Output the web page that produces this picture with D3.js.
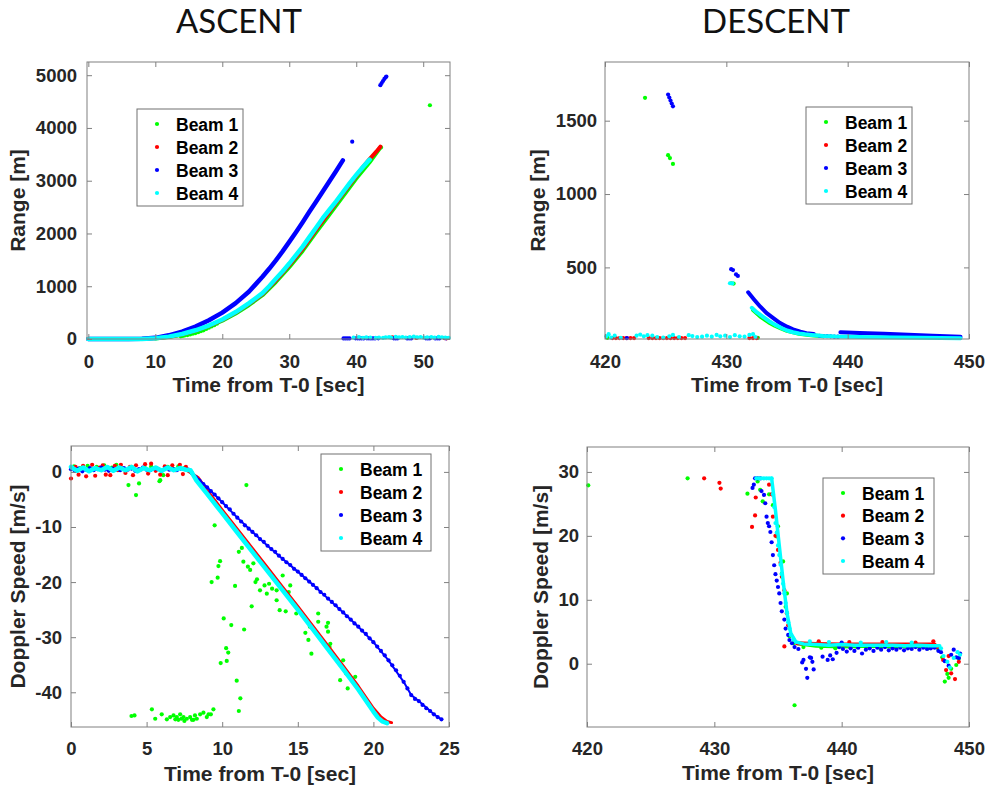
<!DOCTYPE html>
<html>
<head>
<meta charset="utf-8">
<script src="https://cdn.jsdelivr.net/npm/d3@7"></script>
<style>
  body { margin: 0; background: #fff; }
  svg { display: block; }
</style>
</head>
<body>
<svg id="chart" width="990" height="791"></svg>
<script>
// ---- shared ----
const beamNames = ["Beam 1", "Beam 2", "Beam 3", "Beam 4"];
const beamColors = ["#00ff00", "#ff0000", "#0000ff", "#00ffff"];

// ---- ASCENT : range ----
const ascRangeXTicks = [0, 10, 20, 30, 40, 50];
const ascRangeYTicks = [0, 1000, 2000, 3000, 4000, 5000];
const ascRangeTrackB1 = [[10,10],[12,38],[14,82],[16,150],[18,238],[20,348],[22,482],[24,645],[26,830],[28,1080],[30,1360],[32,1670],[34,2020],[36,2360],[38,2700],[40,3040],[42,3350],[43.6,3630]];
const ascRangeDotsB1 = [[13.8,50],[14.1,58],[14.4,66],[14.8,75],[15.2,85],[15.6,100],[16.0,112],[16.4,128],[16.8,148],[17.2,165],[17.6,190],[18.0,215],[18.4,238],[18.8,262],[19.2,290],[43.7,3630],[51.0,4430]];
const ascRangeTrackB2 = [[0,0],[6,0],[8,2],[10,12],[12,42],[14,90],[16,160],[18,250],[20,360],[22,500],[24,665],[26,850],[28,1110],[30,1400],[32,1710],[34,2070],[36,2410],[38,2750],[40,3090],[41,3260],[42,3410],[43,3550],[43.6,3645]];
const ascRangeDotsB2 = [[45.4,30],[49.0,20],[53.2,15],[53.5,12]];
const ascRangeTrackB3 = [[0,0],[6,0],[8,3],[10,22],[12,70],[14,140],[16,235],[18,355],[20,500],[22,680],[24,900],[25,1040],[26,1180],[27,1330],[28,1490],[29,1660],[30,1840],[31,2025],[32,2215],[33,2410],[34,2600],[35,2795],[36,2990],[37,3185],[38,3385]];
const ascRangeDotsB3 = [[39.4,3740],[43.6,4810],[43.8,4850],[44.0,4890],[44.2,4930],[44.4,4960],[44.5,4975],
  [38.1,10],[38.4,10],[38.7,10],[39.0,10],[39.9,12],[40.2,12],[40.5,10],[40.8,12],[41.1,10],[41.6,12],[41.9,12],[42.2,10],[42.5,12],[42.8,10],[43.3,12],
  [45.6,12],[45.9,10],[46.2,12],[47.6,10],[47.9,12],[48.2,10],[50.4,12],[50.7,10],[51.0,12],[51.8,10],[52.1,12],[52.4,10],[53.4,12]];
const ascRangeTrackB4 = [[0,0],[6,0],[8,2],[10,14],[12,45],[14,95],[16,165],[18,255],[20,370],[22,510],[24,680],[26,870],[27,1000],[28,1140],[29,1280],[30,1430],[31,1590],[32,1750],[33,1930],[34,2110],[35,2290],[36,2450],[37,2610],[38,2780],[39,2950],[40,3110],[41,3260],[42,3400]];
const ascRangeDotsB4 = [[39.6,25],[40.4,35],[41.0,22],[41.5,30],[42.1,28],[42.9,20],[43.4,25],[44.0,20],[44.4,30],[44.9,35],[45.2,25],[45.9,40],[46.4,30],[46.9,38],[47.4,28],[48.0,35],[48.6,45],[49.1,30],[49.6,38],[50.1,25],[50.6,30],[51.2,35],[51.7,25],[52.3,40],[52.8,30],[53.3,25],[53.8,20]];

// ---- DESCENT : range ----
const desRangeXTicks = [420, 430, 440, 450];
const desRangeYTicks = [500, 1000, 1500];
const desRangeTrackB1 = [[432.2,210],[432.8,165],[433.5,125],[434,103],[434.5,84],[435,68],[436,48],[437,37],[438,30]];
const desRangeDotsB1 = [[420.2,20],[423.3,1656],[425.2,1265],[425.35,1245],[425.6,1205],[430.4,392],[430.6,390],[432.6,20]];
const desRangeDotsB2 = [[420.6,18],[420.9,18],[421.2,18],[421.5,18],[421.8,18],[422.1,18],[422.4,18],[423.6,18],[423.9,18],[424.2,18],[424.5,18],[424.8,18],[425.1,18],[425.4,18],[425.7,18],[426.0,18],[426.3,18],[426.6,18],[431.9,18],[432.2,18],[432.5,18]];
const desRangeTrackB3a = [[431.8,330],[432.3,280],[432.8,232],[433.3,190],[433.9,153],[434.4,122],[435.0,96],[435.5,78],[436.1,62],[436.6,52],[437.2,46]];
const desRangeTrackB3b = [[439.4,58],[441,53],[443,47],[445,41],[447,35],[449.3,27]];
const desRangeDotsB3 = [[421.8,18],[425.2,1678],[425.3,1658],[425.4,1637],[425.5,1617],[425.6,1598],[430.4,488],[430.55,482],[430.8,452],[430.95,442],[437.7,33],[438.0,32],[438.3,31],[438.6,30],[438.9,28],[439.2,28]];
const desRangeTrackB4 = [[432.1,225],[432.5,195],[433,165],[433.5,135],[434,110],[434.5,88],[435,70],[435.5,58],[436,50],[436.5,44],[437,40],[438,33],[439,29],[440,27],[442,24],[444,22],[446,20],[449.3,17]];
const desRangeDotsB4 = [[430.3,392],[430.5,391],[420.1,30],[420.3,45],[420.5,22],[420.8,35],[421.3,20],[422.6,35],[422.9,42],[423.2,30],[423.5,38],[423.9,35],[424.3,25],[424.8,22],[425.3,30],[425.6,40],[426.1,25],[426.9,38],[427.2,32],[427.6,25],[428.0,28],[428.4,35],[428.8,28],[429.2,40],[429.5,30],[429.9,35],[430.3,25],[430.7,38],[431.1,30],[431.5,28],[431.9,40],[432.2,45],[432.4,25]];

// ---- ASCENT : doppler ----
const ascDopXTicks = [0, 5, 10, 15, 20, 25];
const ascDopYTicks = [0, -10, -20, -30, -40];
const ascDopDotsB1 = [[0.2,1.0],[0.6,0.7],[1.1,1.1],[1.7,0.9],[2.2,1.2],[2.7,0.8],[3.0,1.3],[3.4,0.6],[3.8,-2.4],[4.0,0.9],[4.3,-4.2],[4.5,-2.1],[4.9,0.7],[5.3,1.0],[5.85,-1.7],[5.9,-1.5],[6.1,-0.6],[6.4,0.9],[6.8,0.5],[7.1,1.0],[7.5,0.7],
  [11.6,-2.4],[9.5,-9.7],[9.75,-17.1],[9.86,-16.2],[9.3,-20],[9.7,-19.2],[10.85,-20.7],[10.1,-26.6],[10.6,-27.8],[11.45,-28.6],[10.26,-32],[10.4,-32.8],[9.9,-34.7],[10.3,-34.3],[10.96,-37.9],[11.2,-41.1],[11.1,-43.4],
  [11.95,-24.4],[12.2,-20],[12.5,-21.5],[12.8,-20.6],[12.95,-22.1],[13.3,-21.2],[13.6,-23.3],[13.8,-25.1],[14.4,-21.8],[14.5,-20.6],[14.0,-18.8],[12.06,-16.6],[11.85,-17.8],[11.4,-16.3],[11.1,-14.5],[11.3,-13.8],[11.7,-17.2],
  [13.6,-21.5],[14.3,-22.4],[14.7,-23.9],[14.9,-25.7],[15.5,-29.2],[15.8,-28.1],[15.7,-30.5],[15.9,-33],[16.35,-27.2],[16.35,-25.7],[16.9,-28.1],[17.0,-29],[17.0,-27.4],[17.1,-31.8],[17.15,-31.2],[18.0,-34.2],[18.2,-36.6],[17.8,-37.8],[18.8,-37.2],[18.3,-39.3],[14.2,-25.3],[13.1,-20.3],[12.3,-19.5],
  [4.0,-44.3],[4.2,-44.2],[5.35,-43.1],[5.57,-44.8],[6.0,-44],[6.34,-44.9],[6.56,-44.5],[6.78,-44.2],[6.9,-44.9],[7.0,-44.5],[7.1,-45],[7.22,-44],[7.3,-44.8],[7.44,-44.5],[7.5,-45.2],[7.66,-44.8],[7.88,-44.5],[8.0,-45],[8.1,-45],[8.2,-44.2],[8.32,-44.8],[8.54,-44],[8.76,-43.7],[8.98,-44.5],[9.1,-44],[9.25,-44],[9.42,-43.1]];
const ascDopTrackB2 = [[7.6,0.4],[8.4,-1],[9,-3.3],[10,-6.9],[11,-10.4],[12,-13.9],[13,-17.4],[14,-20.9],[15,-24.4],[16,-28],[17,-31.6],[18,-35.2],[19,-38.9],[19.5,-40.9],[20,-42.9],[20.5,-44.5],[20.9,-45.3],[21.2,-45.5]];
const ascDopDotsB2 = [[0,-1.2],[0.3,0.9],[0.5,-0.5],[0.8,1.1],[1.0,-0.8],[1.2,0.3],[1.4,1.3],[1.6,-0.7],[1.9,0.8],[2.1,1.2],[2.3,-0.5],[2.6,-0.6],[2.9,1.1],[3.1,0.3],[3.3,1.3],[3.6,-0.2],[3.9,0.9],[4.1,-0.6],[4.3,1.2],[4.6,0.4],[4.9,1.4],[5.1,-0.3],[5.3,1.5],[5.6,0.2],[5.9,-0.5],[6.2,1.0],[6.4,-0.6],[6.7,1.2],[6.9,0.3],[7.2,1.3],[7.4,-0.4],[7.6,0.9]];
const ascDopTrackB3 = [[7.8,0.3],[8,-0.2],[9,-2.8],[10,-5.5],[11,-8.3],[12,-10.9],[13,-13.4],[14,-15.8],[15,-18.1],[16,-20.5],[17,-23.0],[18,-25.5],[19,-28.1],[20,-30.9],[21,-34.2],[22,-38.1],[22.5,-40.5],[23,-41.6],[24,-44.0],[24.5,-44.9]];
const ascDopDotsB3 = [[0,0.5],[0.25,0.2],[0.5,0.6],[0.75,0.1],[1,0.4],[1.25,0.7],[1.5,0.3],[1.75,0.5],[2,0.8],[2.25,0.4],[2.5,0.2],[2.75,0.6],[3,0.5],[3.25,0.3],[3.5,0.7],[3.75,0.4],[4,0.6],[4.25,0.2],[4.5,0.5],[4.75,0.8],[5,0.4],[5.25,0.3],[5.5,0.6],[5.75,0.5],[6,0.2],[6.25,0.7],[6.5,0.4],[6.75,0.5],[7,0.3],[7.25,0.6],[7.5,0.5],[7.75,0.4],
  [8.0,-0.2],[8.25,-1.0],[8.5,-1.6],[8.75,-2.2],[9.0,-2.8],[9.25,-3.5],[9.5,-4.1],[9.75,-4.8],[10.0,-5.5],[10.25,-6.2],[10.5,-6.8],[10.75,-7.6],[11.0,-8.3],[11.25,-9.0],[11.5,-9.7],[11.75,-10.3],[12.0,-10.9],[12.25,-11.5],[12.5,-12.2],[12.75,-12.7],[13.0,-13.4],[13.25,-14.0],[13.5,-14.5],[13.75,-15.2],[14.0,-15.8],[14.25,-16.4],[14.5,-16.9],[14.75,-17.6],[15.0,-18.1],[15.25,-18.7],[15.5,-19.3],[15.75,-19.9],[16.0,-20.5],[16.25,-21.1],[16.5,-21.8],[16.75,-22.3],[17.0,-23.0],[17.25,-23.6],[17.5,-24.2],[17.75,-24.9],[18.0,-25.5],[18.25,-26.2],[18.5,-26.8],[18.75,-27.5],[19.0,-28.1],[19.25,-28.8],[19.5,-29.4],[19.75,-30.2],[20.0,-30.9],[20.25,-31.7],[20.5,-32.5],[20.75,-33.3],[21.0,-34.2],[21.25,-35.1],[21.5,-36.0],[21.75,-37.0],[22.0,-38.1],[22.25,-39.3],[22.5,-40.5],[22.75,-41.2],[23.0,-41.6],[23.25,-42.3],[23.5,-42.9],[23.75,-43.4],[24.0,-44.0],[24.25,-44.5],[24.5,-44.9]];
const ascDopTrackB4 = [[0,0.9],[0.4,0.2],[0.8,0.8],[1.2,0.1],[1.6,0.7],[2.0,0.3],[2.4,0.9],[2.8,0.2],[3.2,0.8],[3.6,0.3],[4.0,0.9],[4.4,0.1],[4.8,0.7],[5.2,0.3],[5.6,0.8],[6.0,0.2],[6.4,0.8],[6.8,0.3],[7.2,0.7],[7.6,0.4],[7.9,0.3],[8.3,-1.6],[9,-4],[10,-7.5],[11,-11],[12,-14.5],[13,-18],[14,-21.5],[15,-25],[16,-28.6],[17,-32.2],[18,-35.8],[19,-39.5],[19.5,-41.5],[20,-43.5],[20.3,-44.6],[20.6,-45.3],[20.9,-45.6]];

// ---- DESCENT : doppler ----
const desDopXTicks = [420, 430, 440, 450];
const desDopYTicks = [0, 10, 20, 30];
const desDopTrackB1 = [[436.5,3.2],[438,2.8],[440,2.7],[442,2.8],[444,2.7],[446,2.8],[447.5,2.6]];
const desDopDotsB1 = [[420.1,27.9],[427.9,29],[432.6,26.6],[433.4,28.5],[433.6,27.2],[433.8,25.4],[434.3,26.5],[434.6,24.8],[434.9,19.9],[435.0,21.5],[435.3,14.1],[435.4,16],[435.6,8.9],[435.7,11],[435.9,4.3],[436.2,3.2],[436.3,-6.5],
  [437.0,2.6],[438.4,2.5],[439.5,2.4],[441.2,2.6],[443.0,2.5],[445.1,2.6],[446.8,2.4],
  [447.6,2.2],[447.9,1.0],[448.1,-2.8],[448.3,-1.6],[448.4,-2.2],[448.6,-0.8],[449.0,-0.2],[449.2,0.8]];
const desDopTrackB2 = [[436.5,3.2],[438,3.1],[440,3.0],[442,3.0],[444,3.0],[446,3.0],[447.3,3.0]];
const desDopDotsB2 = [[429.2,29],[430.4,28.3],[430.5,27.4],[433.25,26],[433.2,23.2],[432.96,21.4],[434.3,28],[434.5,26.5],[434.6,23],[434.8,20],[435.0,17.8],[435.2,15.8],[435.3,13.6],[435.5,11.5],[435.7,7.9],[435.8,6],[436.0,4.5],[435.5,2.7],
  [438.2,3.5],[440.6,3.4],[443.2,3.4],[445.8,3.3],
  [447.2,3.5],[447.5,2.6],[447.97,0.6],[448.2,-1.0],[448.4,1.2],[448.6,-1.5],[448.9,-2.4],[449.2,0.3]];
const desDopDotsB3 = [[433.0,27.5],[433.1,28.0],[433.2,29],[433.4,29],[433.6,29],[433.7,27],[433.9,26.4],[434.0,25.1],[434.1,23],[434.2,22],[434.3,21.5],[434.4,20.6],[434.5,19],[434.6,17],[434.7,15.4],[434.8,14],[434.9,13],[435.0,12],[435.1,11],[435.2,9.5],[435.3,8.2],[435.5,6.9],[435.6,5.5],[435.8,4.5],[435.9,3.7],[436.1,3.2],[436.3,2.6],[436.6,2.3],
  [436.9,0.2],[437.0,0.6],[437.2,-0.8],[437.3,-2.2],[437.5,1.0],[437.6,0.9],[437.7,0.3],[437.8,-0.9],[438.5,1.1],[438.9,0.6],[439.1,1.3],[439.3,0.7],[439.6,1.7],[439.8,2.6],[440.0,3.3],
  [440.1,2.3],[440.4,1.9],[440.7,2.4],[441.0,2.0],[441.3,2.5],[441.6,1.6],[441.9,2.2],[442.2,2.4],[442.5,2.0],[442.8,2.5],[443.1,2.2],[443.4,2.6],[443.7,2.1],[444.0,2.4],[444.3,2.2],[444.6,2.5],[444.9,2.1],[445.2,2.4],[445.5,2.3],[445.8,2.6],[446.1,2.2],[446.4,2.5],[446.7,2.3],[447.0,2.4],[447.3,2.5],[447.6,2.0],
  [447.8,1.8],[448.1,0.4],[448.4,-0.3],[448.6,1.4],[448.8,2.2],[449.0,1.0],[449.2,0.9],[449.3,1.6]];
const desDopTrackB4a = [[434.5,29],[434.8,24],[435.1,18.5],[435.4,13],[435.7,8],[436.0,4.8],[436.4,3.4]];
const desDopTrackB4b = [[436.4,3.4],[437,3.1],[438,3.0],[439,2.9],[440,3.0],[441,2.9],[442,2.9],[443,2.9],[444,2.9],[445,2.8],[446,2.9],[447,2.8],[447.7,2.8]];
const desDopDotsB4 = [[433.3,29],[433.5,29],[433.7,29],[433.9,29],[434.1,29],[434.3,29],[434.5,29],[434.6,26.5],[434.7,24.5],[434.8,22],[434.9,20.5],[435.0,18.5],[435.1,17],[435.2,15.5],[435.3,14],[435.4,12.5],[435.5,11],[435.6,9.5],[435.7,8],[435.8,6.5],[435.9,5.5],[436.0,4.5],[436.2,3.8],
  [437.5,3.5],[439.0,3.4],[441.5,3.3],[443.5,3.4],[445.5,3.3],
  [447.8,2.4],[448.0,1.2],[448.3,0.3],[448.5,-0.6],[448.8,0.9],[449.1,1.8],[449.3,1.4]];

// ---- layout of the four panels ----
const panels = [
  { box: [87, 62, 450, 339], xDomain: [-0.2, 54], yDomain: [0, 5250],
    xTicks: ascRangeXTicks, yTicks: ascRangeYTicks, yLabel: "Range [m]",
    xPad: 16, yPad: 10, xLabelY: 392, yLabelX: 25,
    legend: { x: 137, y: 109, w: 106, h: 97 },
    beams: [
      { tracks: [ascRangeTrackB1], dots: ascRangeDotsB1, width: 4 },
      { tracks: [ascRangeTrackB2], dots: ascRangeDotsB2, width: 4 },
      { tracks: [ascRangeTrackB3], dots: ascRangeDotsB3, width: 4.5 },
      { tracks: [ascRangeTrackB4], dots: ascRangeDotsB4, width: 4.5 }
    ] },
  { box: [605, 62, 969, 339], xDomain: [420, 450], yDomain: [12, 1900],
    xTicks: desRangeXTicks, yTicks: desRangeYTicks, yLabel: "Range [m]",
    xPad: 16, yPad: 8, xLabelY: 392, yLabelX: 545,
    legend: { x: 806, y: 107, w: 106, h: 97 },
    beams: [
      { tracks: [desRangeTrackB1], dots: desRangeDotsB1, width: 4 },
      { tracks: [], dots: desRangeDotsB2, width: 4 },
      { tracks: [desRangeTrackB3a, desRangeTrackB3b], dots: desRangeDotsB3, width: 4 },
      { tracks: [desRangeTrackB4], dots: desRangeDotsB4, width: 4 }
    ] },
  { box: [71, 446, 449, 727], xDomain: [0, 25], yDomain: [-46.3, 4.7],
    xTicks: ascDopXTicks, yTicks: ascDopYTicks, yLabel: "Doppler Speed [m/s]",
    xPad: 15, yPad: 9, xLabelY: 781, yLabelX: 25,
    legend: { x: 321, y: 454, w: 110, h: 97 },
    beams: [
      { tracks: [], dots: ascDopDotsB1, width: 3 },
      { tracks: [ascDopTrackB2], dots: ascDopDotsB2, width: 3 },
      { tracks: [ascDopTrackB3], dots: ascDopDotsB3, width: 2 },
      { tracks: [ascDopTrackB4], dots: [], width: 4.5 }
    ] },
  { box: [587, 447, 969, 727], xDomain: [420, 450], yDomain: [-9.9, 33.9],
    xTicks: desDopXTicks, yTicks: desDopYTicks, yLabel: "Doppler Speed [m/s]",
    xPad: 15, yPad: 8, xLabelY: 780, yLabelX: 548,
    legend: { x: 823, y: 478, w: 111, h: 96 },
    beams: [
      { tracks: [desDopTrackB1], dots: desDopDotsB1, width: 4 },
      { tracks: [desDopTrackB2], dots: desDopDotsB2, width: 4 },
      { tracks: [], dots: desDopDotsB3, width: 4 },
      { tracks: [desDopTrackB4a, desDopTrackB4b], dots: desDopDotsB4, width: 3.5 }
    ] }
];

const svg = d3.select("#chart");
const fontFam = "'Liberation Sans', Arial, Helvetica, sans-serif";
const axisColor = "#808080";

// column titles
[["ASCENT", 239], ["DESCENT", 776]].forEach(([t, cx]) => {
  svg.append("text").attr("x", cx).attr("y", 33).attr("text-anchor", "middle")
    .style("font-family", "Lato, 'Open Sans', sans-serif").style("font-size", "33px")
    .attr("fill", "#111").text(t);
});

function drawPanel(p) {
  const [x0, y0, x1, y1] = p.box;
  const x = d3.scaleLinear().domain(p.xDomain).range([x0, x1]);
  const y = d3.scaleLinear().domain(p.yDomain).range([y1, y0]);
  const g = svg.append("g");

  const line = d3.line().x(d => x(d[0])).y(d => y(d[1]));

  // beams in plotting order, beam 4 ends up on top
  p.beams.forEach((b, i) => {
    b.tracks.forEach(seg => {
      g.append("path").datum(seg)
        .attr("d", line)
        .attr("fill", "none")
        .attr("stroke", beamColors[i])
        .attr("stroke-width", b.width)
        .attr("stroke-linecap", "round")
        .attr("stroke-linejoin", "round");
    });
    g.append("g").selectAll("circle").data(b.dots).join("circle")
      .attr("cx", d => x(d[0]))
      .attr("cy", d => y(d[1]))
      .attr("r", 2.1)
      .attr("fill", beamColors[i]);
  });

  // box and ticks on all four sides (pointing inwards)
  const fmt = d => String(d);
  const axes = [
    [d3.axisBottom(x).tickValues(p.xTicks).tickFormat(fmt).tickPadding(p.xPad), `translate(0,${y1})`],
    [d3.axisTop(x).tickValues(p.xTicks).tickFormat(""), `translate(0,${y0})`],
    [d3.axisLeft(y).tickValues(p.yTicks).tickFormat(fmt).tickPadding(p.yPad), `translate(${x0},0)`],
    [d3.axisRight(y).tickValues(p.yTicks).tickFormat(""), `translate(${x1},0)`]
  ];
  axes.forEach(([ax, tr]) => {
    ax.tickSizeInner(-5).tickSizeOuter(0);
    const a = g.append("g").attr("transform", tr).call(ax);
    a.select(".domain").remove();
    a.selectAll(".tick line").attr("stroke", axisColor);
    a.selectAll("text")
      .attr("fill", "#262626")
      .style("font-family", fontFam)
      .style("font-size", "18.5px")
      .style("font-weight", "bold");
  });
  g.append("rect")
    .attr("x", x0).attr("y", y0).attr("width", x1 - x0).attr("height", y1 - y0)
    .attr("fill", "none").attr("stroke", axisColor).attr("stroke-width", 1);

  // axis labels
  g.append("text")
    .attr("x", (x0 + x1) / 2).attr("y", p.xLabelY)
    .attr("text-anchor", "middle")
    .attr("fill", "#262626")
    .style("font-family", fontFam).style("font-size", "21px").style("font-weight", "bold")
    .text("Time from T-0 [sec]");
  g.append("text")
    .attr("transform", `translate(${p.yLabelX},${(y0 + y1) / 2}) rotate(-90)`)
    .attr("text-anchor", "middle")
    .attr("fill", "#262626")
    .style("font-family", fontFam).style("font-size", "21px").style("font-weight", "bold")
    .text(p.yLabel);

  // legend
  const L = p.legend;
  const lg = g.append("g");
  lg.append("rect")
    .attr("x", L.x).attr("y", L.y).attr("width", L.w).attr("height", L.h)
    .attr("fill", "#fff").attr("stroke", "#707070").attr("stroke-width", 1);
  const rowH = (L.h - 28) / 3;
  beamNames.forEach((name, i) => {
    const cy = L.y + 15 + i * rowH;
    lg.append("circle").attr("cx", L.x + 20).attr("cy", cy).attr("r", 2.1).attr("fill", beamColors[i]);
    lg.append("text")
      .attr("x", L.x + 39).attr("y", cy + 6.5)
      .attr("fill", "#000")
      .style("font-family", fontFam).style("font-size", "17.5px").style("font-weight", "bold")
      .text(name);
  });
}

panels.forEach(drawPanel);
</script>
</body>
</html>
